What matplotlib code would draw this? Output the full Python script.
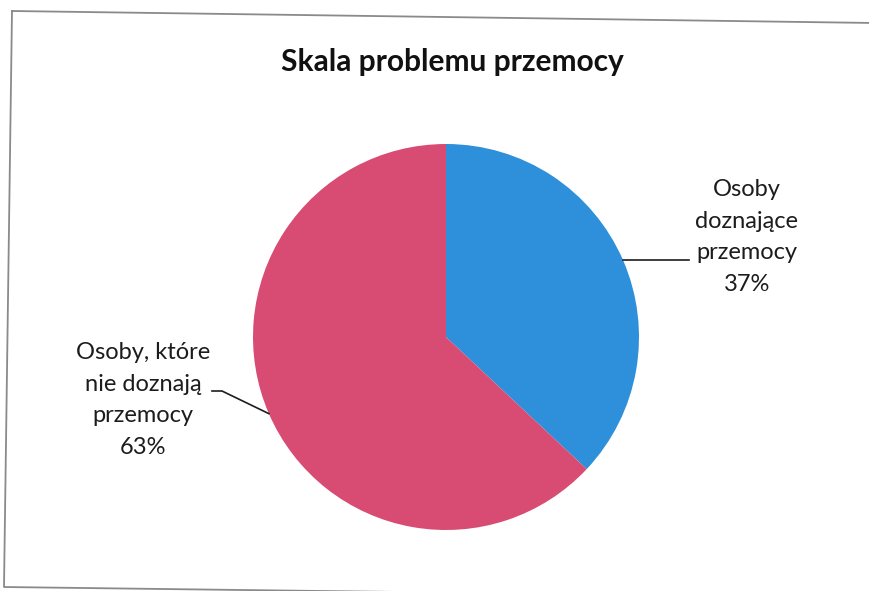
import numpy as np
import matplotlib
matplotlib.use("Agg")
import matplotlib.pyplot as plt
from matplotlib.lines import Line2D

plt.rcParams["font.family"] = ["Lato", "DejaVu Sans"]

TITLE = "Skala problemu przemocy"
labels = ["Osoby\ndoznające\nprzemocy", "Osoby, które\nnie doznają\nprzemocy"]
shares = [37, 63]
colors = ["#2E8FDA", "#D84C74"]

W, H = 869, 591
CX, CY, R = 446, 337, 193  # pie centre / radius in pixels


def to_data(px, py):
    return (px - CX) / R, (CY - py) / R


fig = plt.figure(figsize=(W / 100, H / 100), dpi=100)
fig.patch.set_facecolor("white")

# scanned frame, slightly skewed
frame = [(12, 11), (875, 23), (875, 598), (4, 587), (12, 11)]
fx = [p[0] / W for p in frame]
fy = [1 - p[1] / H for p in frame]
fig.add_artist(Line2D(fx, fy, color="#8a8a8a", lw=1.3, transform=fig.transFigure))

ax = fig.add_axes([0, 0, 1, 1])
wedges, _ = ax.pie(shares, colors=colors, startangle=90, counterclock=False,
                   radius=1.0, center=(0, 0), frame=True)
ax.set_xlim(-CX / R, (W - CX) / R)
ax.set_ylim(-(H - CY) / R, CY / R)
ax.set_aspect("equal")
ax.axis("off")

fig.text(452 / W, 1 - 62 / H, TITLE, ha="center", va="center",
         fontsize=21.5, fontweight="bold", color="#111111")

# label placement (pixels)
text_pos = [(747, 237), (143, 400)]
for lab, val, (tx, ty) in zip(labels, shares, text_pos):
    dx, dy = to_data(tx, ty)
    ax.text(dx, dy, f"{lab}\n{val}%", ha="center", va="center", fontsize=17,
            color="#1c1c1c", linespacing=1.62)

# right leader: horizontal from wedge edge
w = wedges[0]
mid = np.deg2rad((w.theta1 + w.theta2) / 2)
x0, y0 = np.cos(mid), np.sin(mid)
x1, _ = to_data(689, 0)
ax.plot([x0, x1], [y0, y0], color="#1c1c1c", lw=1.2)

# left leader: diagonal then short horizontal
w = wedges[1]
mid = np.deg2rad((w.theta1 + w.theta2) / 2)
x0, y0 = np.cos(mid), np.sin(mid)
ex, ey = to_data(222, 391)
sx, sy = to_data(212, 391)
ax.plot([x0, ex, sx], [y0, ey, sy], color="#1c1c1c", lw=1.2)

fig.savefig("out.png", dpi=100)
